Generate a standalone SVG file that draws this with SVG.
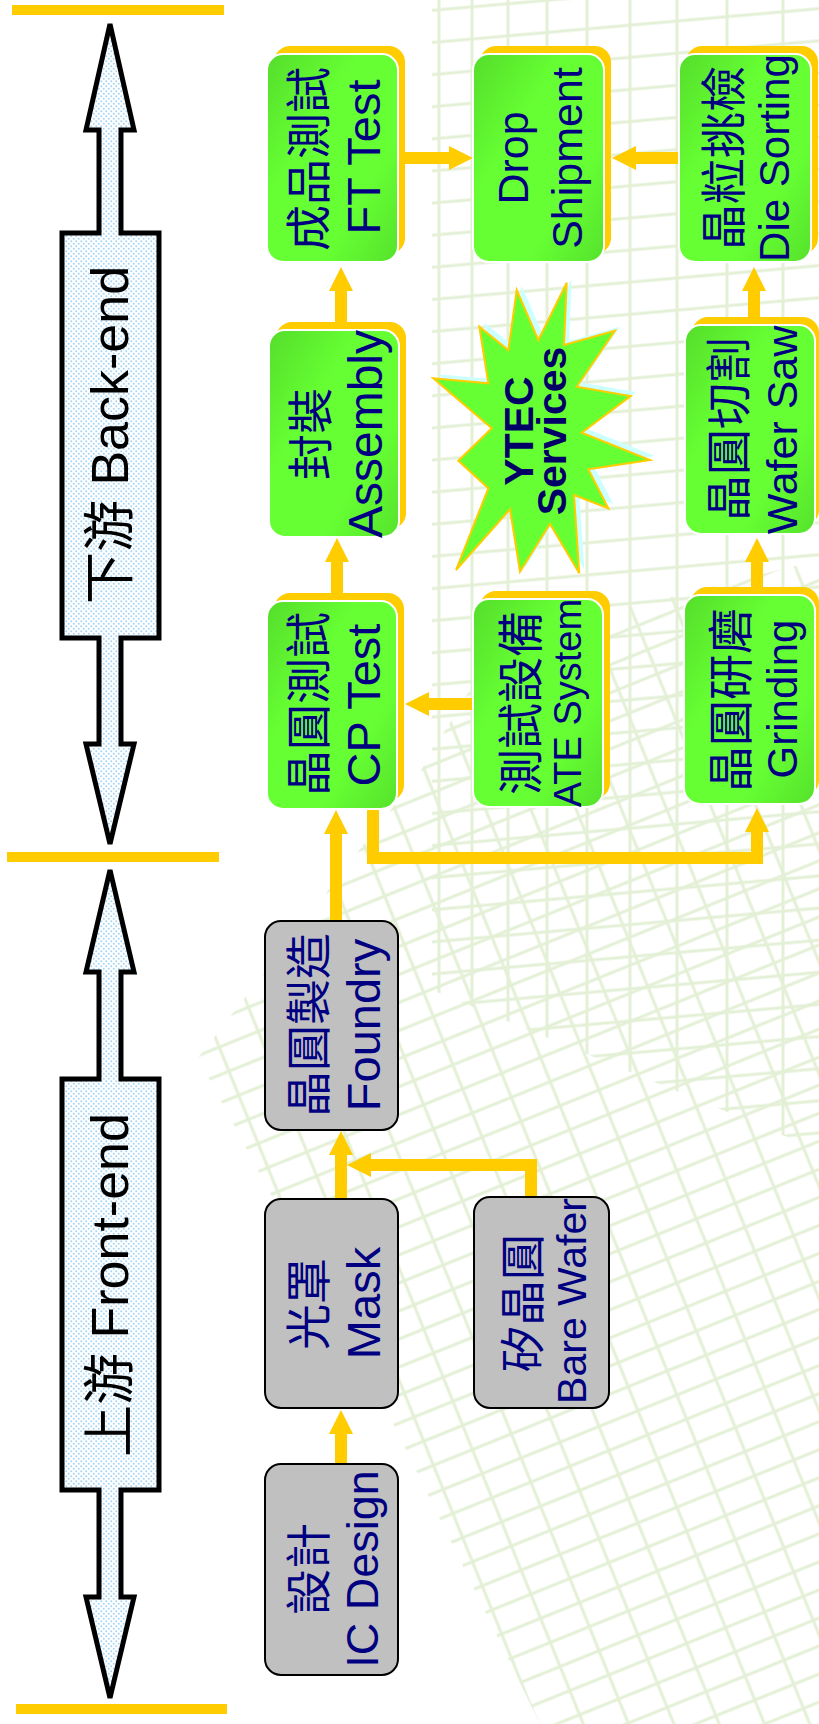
<svg xmlns="http://www.w3.org/2000/svg" width="819" height="1724" viewBox="0 0 819 1724">
<style>
.bar{fill:#FFCC00}
.sh{fill:#FFCC00}
.gb{fill:url(#gg);stroke:#FFFFFF;stroke-width:2}
.gray{fill:#C0C0C0;stroke:#000000;stroke-width:2}
.cjk{font-family:"Noto Sans CJK TC","Noto Sans CJK SC",sans-serif;font-size:46px;fill:#000080}
.en{font-family:"Liberation Sans",Arial,sans-serif;fill:#000080}
.lbl{font-family:"Liberation Sans","Noto Sans CJK TC",sans-serif;font-size:52px;fill:#000000}
.dbl{fill:url(#dots);stroke:#000000;stroke-width:5;stroke-linejoin:miter}
.conn{fill:none;stroke:#FFCC00;stroke-width:12;stroke-linejoin:miter}
.star-t{font-family:"Liberation Sans",Arial,sans-serif;font-weight:bold;font-size:41px;fill:#000066}
.mesh{stroke:#E3F0D6;stroke-width:3;fill:none}
</style>
<defs>
<linearGradient id="gg" x1="0" y1="0" x2="1" y2="1">
<stop offset="0" stop-color="#55DD2B"/>
<stop offset="0.35" stop-color="#66FF33"/>
<stop offset="0.7" stop-color="#66FF33"/>
<stop offset="1" stop-color="#56E22C"/>
</linearGradient>
<pattern id="dots" patternUnits="userSpaceOnUse" width="5" height="5">
<rect width="5" height="5" fill="#FFFFFF"/>
<circle cx="1.25" cy="1.25" r="1" fill="#A6D6F7"/>
<circle cx="3.75" cy="3.75" r="1" fill="#A6D6F7"/>
</pattern>
<pattern id="meshp" patternUnits="userSpaceOnUse" width="42" height="26" patternTransform="rotate(-22)">
<path d="M0,13 H42 M21,0 V26" stroke="#E3F0D6" stroke-width="3" fill="none"/>
</pattern>
<pattern id="hlp" patternUnits="userSpaceOnUse" width="20" height="32" patternTransform="rotate(-5)">
<path d="M0,16 H20" stroke="#E3F0D6" stroke-width="3" fill="none"/>
</pattern>
<clipPath id="clipU"><polygon points="432,0 819,0 819,1150 432,990"/></clipPath>
<clipPath id="clipL"><polygon points="198,1058 420,772 500,640 819,560 819,1724 540,1724 389,1415"/></clipPath>
<marker id="ah" markerUnits="userSpaceOnUse" markerWidth="24" markerHeight="24" refX="0" refY="12" orient="auto" viewBox="0 0 24 24">
<path d="M0,0 L24,12 L0,24 Z" fill="#FFCC00"/>
</marker>
</defs>

<rect width="819" height="1724" fill="#FFFFFF"/>

<g id="background">
<rect x="0" y="0" width="819" height="1724" fill="url(#hlp)" clip-path="url(#clipU)"/>
<g clip-path="url(#clipU)">
<path class="mesh" d="M439,0 V1150 M472,0 V1150 M508,0 V1150 M547,0 V1150 M587,0 V1150 M630,0 V1150 M677,0 V1150 M727,0 V1150 M783,0 V1150"/>
</g>
<rect x="0" y="0" width="819" height="1724" fill="url(#meshp)" clip-path="url(#clipL)"/>
</g>

<g id="bars">
<rect class="bar" x="12" y="5" width="212" height="10"/>
<rect class="bar" x="7" y="852" width="212" height="10"/>
<rect class="bar" x="16" y="1704" width="211" height="10"/>
</g>

<g id="backend-arrow">
<polygon class="dbl" points="110,24 134,130 121,130 121,233 159,233 159,638 121,638 121,744 134,744 110,844 86,744 99,744 99,638 62,638 62,233 99,233 99,130 86,130"/>
<text class="lbl" transform="translate(128,435) rotate(-90)" text-anchor="middle">下游 Back-end</text>
</g>

<g id="frontend-arrow">
<polygon class="dbl" points="110,870 134,972 121,972 121,1079 159,1079 159,1490 121,1490 121,1597 134,1597 110,1698 86,1597 99,1597 99,1490 62,1490 62,1079 99,1079 99,972 86,972"/>
<text class="lbl" transform="translate(128,1285) rotate(-90)" text-anchor="middle">上游 Front-end</text>
</g>

<g id="connectors">
<path class="conn" d="M341,1464 V1434" marker-end="url(#ah)"/>
<path class="conn" d="M341,1199 V1155" marker-end="url(#ah)"/>
<path class="conn" d="M531,1197 V1165 H371" marker-end="url(#ah)"/>
<path class="conn" d="M336,921 V834" marker-end="url(#ah)"/>
<path class="conn" d="M337,601 V562" marker-end="url(#ah)"/>
<path class="conn" d="M341,330 V291" marker-end="url(#ah)"/>
<path class="conn" d="M398,158 H449" marker-end="url(#ah)"/>
<path class="conn" d="M679,158 H636" marker-end="url(#ah)"/>
<path class="conn" d="M754,325 V291" marker-end="url(#ah)"/>
<path class="conn" d="M757,595 V562" marker-end="url(#ah)"/>
<path class="conn" d="M473,704 H429" marker-end="url(#ah)"/>
<path class="conn" d="M373,809 V858 H757 V832" marker-end="url(#ah)"/>
</g>

<g id="n-ic-design">
<rect class="gray" x="265" y="1464" width="133" height="211" rx="16"/>
<text class="cjk" transform="translate(325,1569) rotate(-90)" text-anchor="middle">設計</text>
<text class="en" font-size="45" transform="translate(378,1569) rotate(-90)" text-anchor="middle">IC Design</text>
</g>
<g id="n-mask">
<rect class="gray" x="265" y="1199" width="133" height="209" rx="16"/>
<text class="cjk" transform="translate(325,1304) rotate(-90)" text-anchor="middle">光罩</text>
<text class="en" font-size="47" transform="translate(380,1303) rotate(-90)" text-anchor="middle">Mask</text>
</g>
<g id="n-bare-wafer">
<rect class="gray" x="474" y="1197" width="135" height="211" rx="16"/>
<text class="cjk" transform="translate(539,1303) rotate(-90)" text-anchor="middle">矽晶圓</text>
<text class="en" font-size="41" transform="translate(586,1301) rotate(-90)" text-anchor="middle">Bare Wafer</text>
</g>
<g id="n-foundry">
<rect class="gray" x="265" y="921" width="133" height="209" rx="16"/>
<text class="cjk" transform="translate(325,1025) rotate(-90)" text-anchor="middle">晶圓製造</text>
<text class="en" font-size="47" transform="translate(380,1025) rotate(-90)" text-anchor="middle">Foundry</text>
</g>

<g id="n-cp-test">
<rect class="sh" x="274" y="593" width="130" height="208" rx="16"/>
<rect class="gb" x="267" y="601" width="130" height="208" rx="16"/>
<text class="cjk" transform="translate(325,704) rotate(-90)" text-anchor="middle">晶圓測試</text>
<text class="en" font-size="47" transform="translate(380,705) rotate(-90)" text-anchor="middle">CP Test</text>
</g>
<g id="n-assembly">
<rect class="sh" x="276" y="322" width="130" height="207" rx="16"/>
<rect class="gb" x="269" y="330" width="130" height="207" rx="16"/>
<text class="cjk" transform="translate(327,434) rotate(-90)" text-anchor="middle">封裝</text>
<text class="en" font-size="48" transform="translate(382,434) rotate(-90)" text-anchor="middle">Assembly</text>
</g>
<g id="n-ft-test">
<rect class="sh" x="274" y="46" width="131" height="208" rx="16"/>
<rect class="gb" x="267" y="54" width="131" height="208" rx="16"/>
<text class="cjk" transform="translate(325,159) rotate(-90)" text-anchor="middle">成品測試</text>
<text class="en" font-size="47" transform="translate(380,157) rotate(-90)" text-anchor="middle">FT Test</text>
</g>
<g id="n-drop-shipment">
<rect class="sh" x="480" y="46" width="131" height="208" rx="16"/>
<rect class="gb" x="473" y="54" width="131" height="208" rx="16"/>
<text class="en" font-size="43" transform="translate(528,158) rotate(-90)" text-anchor="middle">Drop</text>
<text class="en" font-size="43" transform="translate(582,158) rotate(-90)" text-anchor="middle">Shipment</text>
</g>
<g id="n-die-sorting">
<rect class="sh" x="686" y="46" width="132" height="208" rx="16"/>
<rect class="gb" x="679" y="54" width="132" height="208" rx="16"/>
<text class="cjk" transform="translate(740,158) rotate(-90)" text-anchor="middle">晶粒挑檢</text>
<text class="en" font-size="42" transform="translate(789,158) rotate(-90)" text-anchor="middle">Die Sorting</text>
</g>
<g id="n-wafer-saw">
<rect class="sh" x="692" y="317" width="127" height="209" rx="16"/>
<rect class="gb" x="685" y="325" width="130" height="209" rx="16"/>
<text class="cjk" transform="translate(745,429) rotate(-90)" text-anchor="middle">晶圓切割</text>
<text class="en" font-size="43" transform="translate(797,430) rotate(-90)" text-anchor="middle">Wafer Saw</text>
</g>
<g id="n-ate-system">
<rect class="sh" x="480" y="591" width="130" height="208" rx="16"/>
<rect class="gb" x="473" y="599" width="130" height="208" rx="16"/>
<text class="cjk" transform="translate(537,703) rotate(-90)" text-anchor="middle">測試設備</text>
<text class="en" font-size="38" transform="translate(581,703) rotate(-90)" text-anchor="middle">ATE System</text>
</g>
<g id="n-grinding">
<rect class="sh" x="691" y="587" width="128" height="209" rx="16"/>
<rect class="gb" x="684" y="595" width="131" height="209" rx="16"/>
<text class="cjk" transform="translate(747,700) rotate(-90)" text-anchor="middle">晶圓研磨</text>
<text class="en" font-size="42" transform="translate(797,699) rotate(-90)" text-anchor="middle">Grinding</text>
</g>

<g id="n-ytec-services">
<polygon transform="translate(5,-4)" fill="#CCFFFF" points="566.7,282.7 564,345 615,330.7 576.7,386.7 630.7,396 581.7,432.7 650,460 588.3,469.3 608.3,508.3 574,495 579.3,573.3 550,524 520,571.7 510,509.3 456,570 488.3,488.3 458.3,460.7 491.7,428.3 433.3,378.3 488.3,383.3 479.3,326.7 508.3,350 516.7,290 538.3,340"/>
<polygon fill="#66FF33" stroke="#FFCC00" stroke-width="2" points="566.7,282.7 564,345 615,330.7 576.7,386.7 630.7,396 581.7,432.7 650,460 588.3,469.3 608.3,508.3 574,495 579.3,573.3 550,524 520,571.7 510,509.3 456,570 488.3,488.3 458.3,460.7 491.7,428.3 433.3,378.3 488.3,383.3 479.3,326.7 508.3,350 516.7,290 538.3,340"/>
<text class="star-t" transform="translate(533,431) rotate(-90)" text-anchor="middle">YTEC</text>
<text class="star-t" transform="translate(566,431) rotate(-90)" text-anchor="middle">Services</text>
</g>
</svg>
